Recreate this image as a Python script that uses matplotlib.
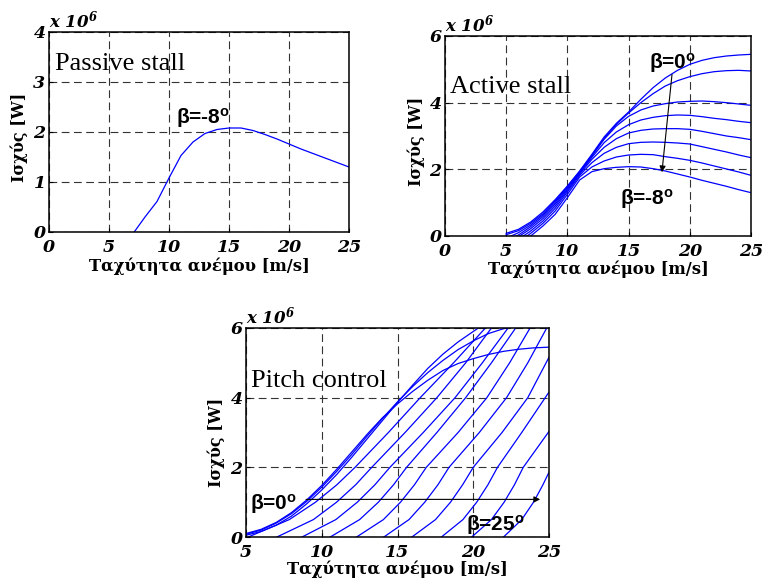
import numpy as np
import matplotlib
matplotlib.use('Agg')
import matplotlib.pyplot as plt

nan = np.nan

# ---- Passive stall (beta = -8 deg) ----
passive_ws = [7.1, 8, 9, 10, 11, 12, 13, 14, 15, 16, 17, 18, 19, 20, 21, 22, 23, 24, 25]
passive_p = [0.0, 0.30, 0.61, 1.08, 1.53, 1.80, 1.97, 2.05, 2.08, 2.08, 2.03, 1.95,
             1.86, 1.76, 1.66, 1.57, 1.48, 1.39, 1.30]

# ---- Active stall, beta = 0 ... -8 deg ----
active_ws = list(range(5, 26))
active_start = [5.0, 5.0, 5.4, 5.8, 6.1, 6.4, 6.7, 7.0]   # where power leaves zero
active_p = [
    [0.08, 0.20, 0.42, 0.72, 1.09, 1.50, 1.95, 2.45, 2.97, 3.38, 3.72, 4.10, 4.45, 4.74, 4.97, 5.15, 5.27, 5.35, 5.40, 5.43, 5.45],
    [0.04, 0.16, 0.38, 0.67, 1.05, 1.48, 1.93, 2.42, 2.93, 3.35, 3.69, 4.00, 4.27, 4.50, 4.66, 4.78, 4.87, 4.93, 4.96, 4.97, 4.95],
    [nan, 0.10, 0.33, 0.63, 1.01, 1.45, 1.91, 2.40, 2.90, 3.30, 3.59, 3.78, 3.90, 3.97, 4.02, 4.04, 4.05, 4.03, 4.00, 3.96, 3.92],
    [nan, 0.03, 0.28, 0.58, 0.96, 1.41, 1.89, 2.36, 2.80, 3.12, 3.34, 3.48, 3.56, 3.61, 3.63, 3.62, 3.58, 3.53, 3.49, 3.44, 3.40],
    [nan, nan, 0.22, 0.52, 0.90, 1.37, 1.86, 2.30, 2.66, 2.92, 3.09, 3.17, 3.21, 3.22, 3.22, 3.20, 3.14, 3.07, 3.00, 2.95, 2.89],
    [nan, nan, 0.15, 0.45, 0.83, 1.32, 1.82, 2.20, 2.48, 2.66, 2.77, 2.81, 2.82, 2.81, 2.79, 2.76, 2.68, 2.60, 2.52, 2.43, 2.35],
    [nan, nan, 0.08, 0.38, 0.75, 1.25, 1.77, 2.07, 2.25, 2.37, 2.43, 2.45, 2.44, 2.38, 2.33, 2.27, 2.19, 2.10, 2.01, 1.92, 1.82],
    [nan, nan, 0.00, 0.30, 0.65, 1.15, 1.68, 1.93, 2.02, 2.06, 2.08, 2.07, 2.02, 1.95, 1.86, 1.77, 1.67, 1.58, 1.49, 1.39, 1.30],
]

# ---- Pitch control ----
# curves close to beta = 0 (given on a 1 m/s grid)
pitch_ws = list(range(5, 26))
pitch_low_p = [
    [0.10, 0.22, 0.42, 0.70, 1.06, 1.48, 1.95, 2.45, 2.95, 3.42, 3.82, 4.18, 4.50, 4.78, 4.98, 5.12, 5.24, 5.33, 5.39, 5.43, 5.45],
    [0.08, 0.20, 0.40, 0.67, 1.02, 1.43, 1.89, 2.38, 2.90, 3.40, 3.88, 4.32, 4.72, 5.07, 5.38, 5.63, 5.84, 5.98, 6.08, nan, nan],
    [0.05, 0.16, 0.34, 0.60, 0.95, 1.35, 1.80, 2.30, 2.82, 3.34, 3.86, 4.36, 4.84, 5.25, 5.60, 5.90, 6.20, nan, nan, nan, nan],
]
# higher pitch angles: wind speed where each curve reaches the power levels below
pitch_levels = [0, 0.5, 1, 1.5, 2, 3, 4, 5, 6]
pitch_high_ws = [
    [5.15, 7.86, 9.59, 11.00, 12.20, 14.40, 16.50, 18.70, 20.80],
    [7.04, 9.45, 10.98, 12.24, 13.30, 15.50, 17.60, 19.50, 21.20],
    [8.70, 10.93, 12.35, 13.51, 14.50, 16.70, 18.80, 20.60, 22.30],
    [10.56, 12.50, 13.74, 14.74, 15.60, 17.60, 19.50, 21.20, 22.80],
    [12.30, 14.07, 15.20, 16.12, 16.90, 19.00, 20.90, 22.40, 23.75],
    [14.10, 15.76, 16.80, 17.67, 18.40, 20.40, 22.20, 23.60, 24.85],
    [15.95, 17.51, 18.50, 19.30, 20.00, 21.90, 23.60, nan, nan],
    [17.90, 19.32, 20.23, 20.97, 21.60, 23.20, 24.75, nan, nan],
    [19.90, 21.20, 22.04, 22.72, 23.30, 24.95, nan, nan, nan],
    [22.00, 23.20, 23.98, 24.60, nan, nan, nan, nan, nan],
]
pitch_edge_p = [nan, nan, nan, nan, nan, nan, 5.16, 4.16, 3.03, 1.86]  # power at 25 m/s

xlabel = 'Ταχύτητα ανέμου [m/s]'
ylabel = 'Ισχύς [W]'

blue = '#0000ff'
serif = 'DejaVu Serif'

plt.rcParams['mathtext.fontset'] = 'dejavuserif'

fig = plt.figure(figsize=(7.62, 5.79), dpi=100)
W, H = 762.0, 579.0


def make_axes(l, t, r, b):
    return fig.add_axes([l / W, 1 - b / H, (r - l) / W, (b - t) / H])


def style(ax, xlim, ylim, xticks, yticks, xl_y, yl_x, yl_y):
    ax.set_xlim(*xlim)
    ax.set_ylim(*ylim)
    ax.set_xticks(xticks)
    ax.set_yticks(yticks)
    ax.grid(True, color='#333333', linestyle=(0, (7, 4)), linewidth=0.8)
    ax.set_axisbelow(True)
    ax.tick_params(direction='in', length=3, width=0.8)
    ax.tick_params(axis='x', pad=5)
    ax.tick_params(axis='y', pad=2.5)
    for lab in ax.get_xticklabels() + ax.get_yticklabels():
        lab.set_fontfamily(serif)
        lab.set_fontweight('bold')
        lab.set_fontstyle('italic')
        lab.set_fontsize(12.5)
    for sp in ax.spines.values():
        sp.set_linewidth(1.1)
    ax.set_xlabel(xlabel, family=serif, fontweight='bold', fontsize=11.8, va='center')
    ax.set_ylabel(ylabel, family=serif, fontweight='bold', fontsize=11.5, va='center')
    ax.xaxis.set_label_coords(0.5, xl_y)
    ax.yaxis.set_label_coords(yl_x, yl_y)
    ax.text(0.0, 1.005, r'x 10$^{\mathregular{6}}$', transform=ax.transAxes,
            ha='left', va='bottom', family=serif, fontweight='bold',
            fontstyle='italic', fontsize=12)


def beta_label(ax, x, y, s):
    ax.text(x, y, r'β=%s$^{\mathregular{o}}$' % s, family='Liberation Sans',
            fontweight='bold', fontsize=15, ha='left', va='center')


# ---- top-left: passive stall ----
ax1 = make_axes(49, 32, 349, 232)
ax1.plot(passive_ws, passive_p, color=blue, lw=0.9)
style(ax1, (0, 25), (0, 4), [0, 5, 10, 15, 20, 25], [0, 1, 2, 3, 4], -0.17, -0.1, 0.475)
ax1.text(0.5, 3.36, 'Passive stall', family='Liberation Serif', fontsize=19,
         ha='left', va='center')
beta_label(ax1, 10.6, 2.28, '-8')

# ---- top-right: active stall ----
ax2 = make_axes(445, 36, 751, 236)
for start, p in zip(active_start, active_p):
    x = np.array(active_ws, dtype=float)
    y = np.array(p, dtype=float)
    ok = ~np.isnan(y)
    x, y = x[ok], y[ok]
    if x[0] > start:
        x = np.concatenate([[start], x])
        y = np.concatenate([[0.0], y])
    ax2.plot(x, y, color=blue, lw=0.9)
style(ax2, (0, 25), (0, 6), [0, 5, 10, 15, 20, 25], [0, 2, 4, 6], -0.165, -0.095, 0.475)
ax2.text(0.4, 4.47, 'Active stall', family='Liberation Serif', fontsize=19,
         ha='left', va='center')
beta_label(ax2, 16.7, 5.2, '0')
beta_label(ax2, 14.3, 1.1, '-8')
ax2.annotate('', xy=(17.7, 1.83), xytext=(18.57, 4.93),
             arrowprops=dict(arrowstyle='-|>', color='k', lw=0.8, mutation_scale=9))

# ---- bottom: pitch control ----
ax3 = make_axes(246, 328, 549, 537)
for p in pitch_low_p:
    ax3.plot(pitch_ws, p, color=blue, lw=0.9)
for ws, edge in zip(pitch_high_ws, pitch_edge_p):
    x = np.array(ws, dtype=float)
    y = np.array(pitch_levels, dtype=float)
    ok = ~np.isnan(x)
    x, y = x[ok], y[ok]
    if not np.isnan(edge):
        x = np.append(x, 25.0)
        y = np.append(y, edge)
    ax3.plot(x, y, color=blue, lw=0.9)
style(ax3, (5, 25), (0, 6), [5, 10, 15, 20, 25], [0, 2, 4, 6], -0.155, -0.097, 0.455)
ax3.text(5.33, 4.48, 'Pitch control', family='Liberation Serif', fontsize=19,
         ha='left', va='center')
beta_label(ax3, 5.25, 0.95, '0')
beta_label(ax3, 19.5, 0.35, '25')
ax3.annotate('', xy=(24.6, 1.08), xytext=(8.78, 1.08),
             arrowprops=dict(arrowstyle='-|>', color='k', lw=0.8, mutation_scale=9))

fig.savefig('out.png', dpi=100)
